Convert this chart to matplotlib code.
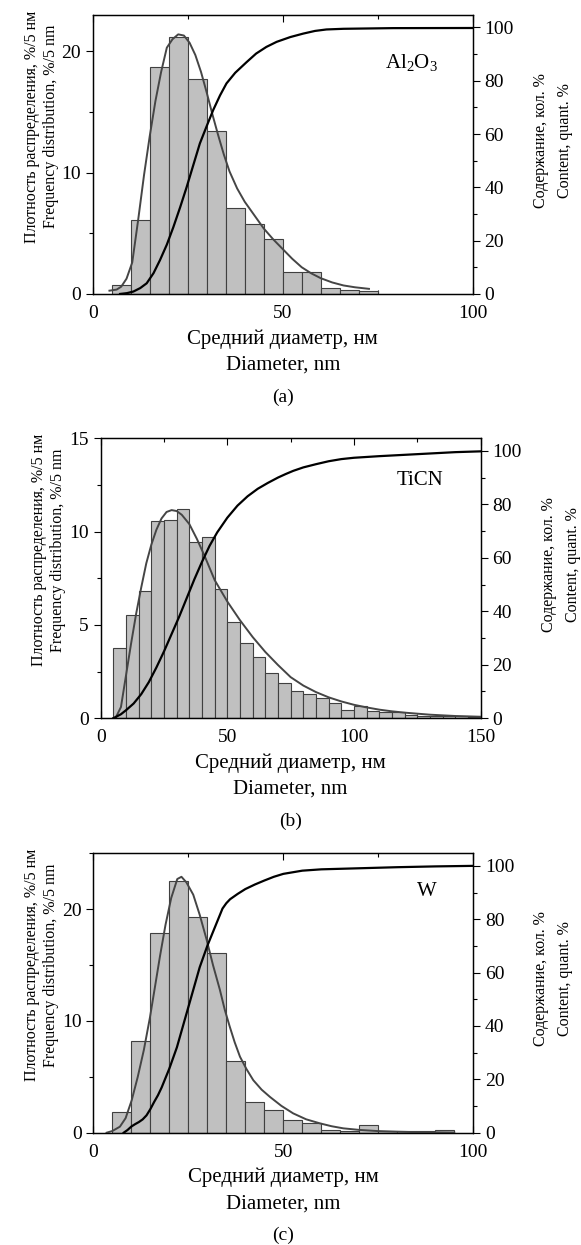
import matplotlib.pyplot as plt
from matplotlib.ticker import MultipleLocator
import numpy as np

plt.rcParams['font.family'] = ['Liberation Serif', 'DejaVu Serif']
plt.rcParams['mathtext.default'] = 'regular'
plt.rcParams['font.size'] = 14

# (a) Al2O3
al_edges = [5, 10, 15, 20, 25, 30, 35, 40, 45, 50, 55, 60, 65, 70]
al_freq = [0.72, 6.1, 18.7, 21.2, 17.7, 13.4, 7.1, 5.8, 4.5, 1.8, 1.8, 0.45, 0.33, 0.24]
al_fit_x = [4.4, 6.3, 7.5, 8.9, 10.4, 12, 13.5, 15, 16.5, 18, 19.5, 21, 22.5, 24, 25.5,
            27, 28.5, 30, 31.5, 33, 34.5, 36, 38, 40, 42.5, 45, 47.5, 50, 52.5, 55,
            57.5, 60, 63, 66, 69, 72.7]
al_fit_y = [0.27, 0.36, 0.6, 1.26, 2.6, 6.2, 9.8, 13.0, 15.9, 18.3, 20.3, 21.0, 21.4,
            21.3, 20.7, 19.7, 18.3, 16.6, 14.8, 13.1, 11.5, 10.1, 8.7, 7.6, 6.5, 5.4,
            4.5, 3.7, 2.9, 2.2, 1.7, 1.3, 0.95, 0.7, 0.55, 0.42]
al_cum_x = [7.2, 9, 10.7, 12.5, 14.2, 16, 17.7, 19.5, 21.2, 23, 24.7, 26.5, 28.2, 30,
            31.7, 33.5, 35.2, 37.5, 40.5, 43, 45.7, 48.4, 52, 55.4, 58.5, 61.5, 66,
            79, 100]
al_cum_y = [0, 0.3, 0.9, 2.2, 4, 7.8, 12.7, 18.5, 25, 32.5, 40, 48.5, 56.5, 63, 69,
            74.5, 79, 83, 87, 90.2, 92.7, 94.6, 96.4, 97.7, 98.7, 99.25, 99.5, 99.75,
            99.8]

# (b) TiCN
ti_edges = list(range(5, 150, 5))
ti_freq = [3.75, 5.54, 6.79, 10.55, 10.63, 11.2, 9.43, 9.71, 6.95, 5.16, 4.05, 3.27,
           2.4, 1.9, 1.46, 1.28, 1.07, 0.79, 0.43, 0.63, 0.38, 0.34, 0.32, 0.18, 0.1,
           0.14, 0.14, 0.14, 0.07]
ti_fit_x = [5, 6, 8, 10, 12, 14, 16, 18, 20, 22, 24, 26, 28, 30, 32, 35, 38, 41, 45,
            50, 55, 60, 65, 70, 75, 80, 85, 90, 95, 100, 105, 110, 115, 120, 130, 140, 150]
ti_fit_y = [0, 0.05, 0.6, 2.3, 4.0, 5.6, 7.0, 8.3, 9.3, 10.1, 10.7, 11.05, 11.15, 11.1,
            10.9, 10.4, 9.6, 8.7, 7.4, 6.25, 5.25, 4.35, 3.55, 2.85, 2.2, 1.75, 1.4, 1.12,
            0.9, 0.72, 0.58, 0.46, 0.37, 0.3, 0.19, 0.12, 0.08]
ti_cum_x = [5, 8, 10, 13, 16, 19, 22, 25, 28, 31, 34, 37, 40, 43, 46, 50, 54, 58, 62,
            66, 70, 73, 76, 80, 85, 90, 95, 100, 110, 120, 130, 140, 150]
ti_cum_y = [0, 1.5, 3, 5.5, 9, 13.5, 19, 25, 31.5, 38, 45, 52, 58.5, 64.5, 69.5, 75,
            79.5, 83, 85.8, 88, 90, 91.3, 92.5, 93.8, 95, 96.1, 96.9, 97.4, 98.0, 98.5,
            99.0, 99.5, 99.8]

# (c) W
w_edges = [5, 10, 15, 20, 25, 30, 35, 40, 45, 50, 55, 60, 65, 70, 75, 80, 85, 90]
w_freq = [1.82, 8.25, 17.9, 22.5, 19.3, 16.07, 6.45, 2.72, 2.03, 1.13, 0.84, 0.24,
          0.18, 0.66, 0.15, 0.15, 0.15, 0.2]
w_fit_x = [3.5, 5, 7, 8.5, 10.1, 11.7, 13.3, 14.9, 16.3, 17.55, 19, 20.5, 22.1, 23.2,
           24.5, 26.3, 28, 29.8, 31.5, 33.3, 34.6, 35.9, 37.2, 38.6, 40.3, 42.1, 44.3,
           46.5, 49.5, 52.6, 56, 59.6, 62.7, 65.8, 70, 74.6, 80, 85, 90, 95]
w_fit_y = [0, 0.15, 0.54, 1.3, 2.9, 5.0, 7.4, 10.3, 13.2, 15.8, 18.6, 21.0, 22.7, 22.9,
           22.4, 21.3, 19.5, 17.3, 15.0, 12.8, 11.0, 9.5, 8.1, 6.8, 5.7, 4.7, 3.85,
           3.2, 2.4, 1.73, 1.2, 0.84, 0.58, 0.39, 0.25, 0.15, 0.09, 0.05, 0.03, 0.01]
w_cum_x = [8, 9, 10, 11, 12, 13, 14, 15, 16, 17, 18, 19, 20, 21, 22, 23, 24, 25, 26,
           27, 28, 29, 30, 31, 32, 33, 34, 35, 36, 38, 40, 42.5, 45, 47.5, 50, 55, 60,
           70, 80, 90, 100]
w_cum_y = [0, 1, 2.3, 3.2, 4, 5, 6.5, 8.8, 11.5, 14, 17, 20.5, 24, 28, 32, 37, 42, 47,
           52, 57, 62, 66, 70, 73.5, 77, 80.5, 84, 86, 87.5, 89.5, 91.3, 93, 94.5,
           95.9, 97, 98.2, 98.7, 99.1, 99.5, 99.8, 100]

ylab_left = 'Плотность распределения, %/5 нм\nFrequency distribution, %/5 nm'
ylab_right = 'Содержание, кол. %\nContent, quant. %'
xlab = 'Средний диаметр, нм\nDiameter, nm'


def panel(rect, edges, freq, fit_x, fit_y, cum_x, cum_y, xmax, ymax, ymaj, ymin,
          name, name_pos, caption):
    ax = fig.add_axes(rect)
    ax.bar(edges, freq, width=5, align='edge', color='#c0c0c0', edgecolor='#404040',
           linewidth=0.8, zorder=2)
    ax.plot(fit_x, fit_y, color='#454545', lw=1.4, zorder=3)
    ax.set_xlim(0, xmax)
    ax.set_ylim(0, ymax)
    ax.xaxis.set_major_locator(MultipleLocator(50))
    ax.xaxis.set_minor_locator(MultipleLocator(25))
    ax.yaxis.set_major_locator(MultipleLocator(ymaj))
    ax.yaxis.set_minor_locator(MultipleLocator(ymin))
    ax.tick_params(axis='x', which='both', direction='in', top=True, bottom=True, pad=8)
    ax.tick_params(axis='y', which='both', direction='out', right=False)
    ax.tick_params(which='major', length=5, width=0.8)
    ax.tick_params(which='minor', length=3, width=0.8)
    ax.set_xlabel(xlab, fontsize=15, linespacing=1.5, labelpad=5)
    ax.set_ylabel(ylab_left, fontsize=11.5, linespacing=1.25)
    ax.yaxis.set_label_coords(-0.09, 0.6)
    ax.text(name_pos[0], name_pos[1], name, transform=ax.transAxes, ha='center',
            va='center', fontsize=15)

    ax2 = ax.twinx()
    ax2.plot(cum_x, cum_y, color='k', lw=1.6)
    ax2.set_ylim(0, 104.7)
    ax2.yaxis.set_major_locator(MultipleLocator(20))
    ax2.yaxis.set_minor_locator(MultipleLocator(10))
    ax2.tick_params(axis='y', which='both', direction='out')
    ax2.tick_params(which='major', length=5, width=0.8)
    ax2.tick_params(which='minor', length=3, width=0.8)
    ax2.set_ylabel(ylab_right, fontsize=11.5, linespacing=1.68)
    ax2.yaxis.set_label_coords(1.158, 0.55)
    for a in (ax, ax2):
        for s in a.spines.values():
            s.set_linewidth(0.9)

    fig.text(rect[0] + rect[2] / 2, rect[1] - 103 / 1245, caption, ha='center',
             va='center', fontsize=14)


fig = plt.figure(figsize=(5.81, 12.45), dpi=100)

panel([0.1596, 0.7639, 0.654, 0.2241], al_edges, al_freq, al_fit_x, al_fit_y,
      al_cum_x, al_cum_y, 100, 23, 10, 5, 'Al$_2$O$_3$', (0.84, 0.83), '(a)')
panel([0.1733, 0.4231, 0.654, 0.2249], ti_edges, ti_freq, ti_fit_x, ti_fit_y,
      ti_cum_x, ti_cum_y, 150, 15, 5, 2.5, 'TiCN', (0.84, 0.85), '(b)')
panel([0.1606, 0.0902, 0.654, 0.2244], w_edges, w_freq, w_fit_x, w_fit_y,
      w_cum_x, w_cum_y, 100, 25, 10, 5, 'W', (0.878, 0.865), '(c)')

fig.savefig('out.png', dpi=100)
